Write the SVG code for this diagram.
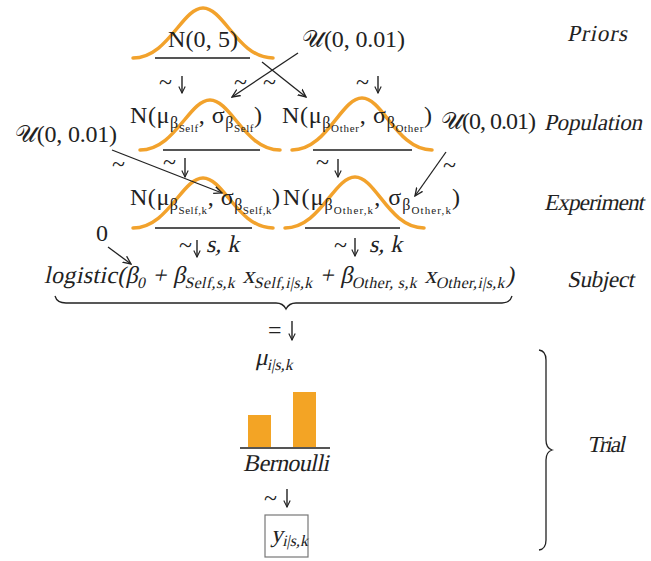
<svg xmlns="http://www.w3.org/2000/svg" width="651" height="561" viewBox="0 0 651 561">
<style>
.f{font-family:"Liberation Serif","DejaVu Serif",serif;font-size:24px;fill:#222}
.s1{font-size:16px}
.s2{font-size:11px}
.lab{font-family:"Liberation Serif","DejaVu Serif",serif;font-size:23px;fill:#222}
.cur{fill:none;stroke:#F2A22C;stroke-width:3.5;stroke-linecap:round}
.base{stroke:#555;stroke-width:2}
.conn{stroke:#222;stroke-width:1.3;fill:none}
.dn{stroke:#222;stroke-width:1.4;fill:none}
.bar{fill:#F3A425}
</style>
<defs>
<marker id="ah" viewBox="0 0 10 10" refX="9" refY="5" markerWidth="9" markerHeight="9" orient="auto" markerUnits="userSpaceOnUse">
<path d="M0,1 L9,5 L0,9" fill="none" stroke="#222" stroke-width="1.5"/>
</marker>
<marker id="ad" viewBox="0 0 10 10" refX="9" refY="5" markerWidth="8" markerHeight="8" orient="auto" markerUnits="userSpaceOnUse">
<path d="M1,1 L9,5 L1,9" fill="none" stroke="#222" stroke-width="1.4"/>
</marker>
</defs>

<g id="prior-beta">
<path class="cur" d="M133,58 C168,58 182,8 203,8 C224,8 238,58 273,58"/>
<line class="base" x1="155" y1="58" x2="250" y2="58"/>
<text class="f" x="168" y="47" textLength="70" lengthAdjust="spacing">N(0, 5)</text>
</g>

<g id="prior-sigma">
<text class="f" x="302" y="47" textLength="103" lengthAdjust="spacing">𝒰(0, 0.01)</text>
</g>

<g id="pop-self">
<path class="cur" d="M140,150 C175,150 189,100 210,100 C231,100 245,150 280,150"/>
<line class="base" x1="163" y1="150" x2="260" y2="150"/>
<text class="f" x="130" y="123" textLength="132" lengthAdjust="spacing">N(μ<tspan class="s1" dy="5">β</tspan><tspan class="s2" dy="4">Self</tspan><tspan dy="-9">, σ</tspan><tspan class="s1" dy="5">β</tspan><tspan class="s2" dy="4">Self</tspan><tspan dy="-9">)</tspan></text>
</g>

<g id="pop-other">
<path class="cur" d="M292,150 C327,150 341,98 362,98 C383,98 397,150 432,150"/>
<line class="base" x1="313" y1="150" x2="412" y2="150"/>
<text class="f" x="282" y="123" textLength="150" lengthAdjust="spacing">N(μ<tspan class="s1" dy="5">β</tspan><tspan class="s2" dy="4">Other</tspan><tspan dy="-9">, σ</tspan><tspan class="s1" dy="5">β</tspan><tspan class="s2" dy="4">Other</tspan><tspan dy="-9">)</tspan></text>
</g>

<g id="pop-sigma-left">
<text class="f" x="15" y="142" textLength="102" lengthAdjust="spacing">𝒰(0, 0.01)</text>
</g>

<g id="pop-sigma-right">
<text class="f" x="441" y="129" textLength="95" lengthAdjust="spacing">𝒰(0, 0.01)</text>
</g>

<g id="exp-self">
<path class="cur" d="M133,228 C168,228 182,178 203,178 C224,178 238,228 273,228"/>
<line class="base" x1="155" y1="228" x2="252" y2="228"/>
<text class="f" x="130" y="205" textLength="150" lengthAdjust="spacing">N(μ<tspan class="s1" dy="5">β</tspan><tspan class="s2" dy="4">Self,k</tspan><tspan dy="-9">, σ</tspan><tspan class="s1" dy="5">β</tspan><tspan class="s2" dy="4">Self,k</tspan><tspan dy="-9">)</tspan></text>
</g>

<g id="exp-other">
<path class="cur" d="M285,228 C320,228 334,177 355,177 C376,177 389,228 424,228"/>
<line class="base" x1="305" y1="228" x2="400" y2="228"/>
<text class="f" x="283" y="205" textLength="177" lengthAdjust="spacing">N(μ<tspan class="s1" dy="5">β</tspan><tspan class="s2" dy="4">Other,k</tspan><tspan dy="-9">, σ</tspan><tspan class="s1" dy="5">β</tspan><tspan class="s2" dy="4">Other,k</tspan><tspan dy="-9">)</tspan></text>
</g>

<g id="intercept">
<text class="f" x="96" y="241">0</text>
</g>

<g id="subject">
<text class="f" transform="translate(44,283) skewX(-12)" x="0" y="0" textLength="470" lengthAdjust="spacing">logistic(β<tspan class="s1" dy="5">0</tspan><tspan dy="-5"> + β</tspan><tspan class="s1" dy="5">Self,s,k</tspan><tspan dy="-5"> x</tspan><tspan class="s1" dy="5">Self,i|s,k</tspan><tspan dy="-5"> + β</tspan><tspan class="s1" dy="5">Other, s,k</tspan><tspan dy="-5"> x</tspan><tspan class="s1" dy="5">Other,i|s,k</tspan><tspan dy="-5">)</tspan></text>
<path class="conn" stroke-width="2" d="M55,296 Q57,303 66,303 L276,303 Q283,303 286,309 Q289,303 296,303 L502,303 Q510,303 512,296"/>
</g>

<g id="trial">
<text class="f" transform="translate(255,365) skewX(-12)" x="0" y="0">μ<tspan class="s1" dy="5">i|s,k</tspan></text>
<rect class="bar" x="248" y="415" width="23" height="33"/>
<rect class="bar" x="293" y="392" width="23" height="56"/>
<line class="base" x1="240" y1="448" x2="330" y2="448"/>
<text class="f" transform="translate(243,471) skewX(-12)" x="0" y="0" textLength="86" lengthAdjust="spacing">Bernoulli</text>
</g>

<g id="observation">
<rect x="265" y="515" width="43" height="42" fill="none" stroke="#777" stroke-width="1.2"/>
<text class="f" transform="translate(271,542) skewX(-12)" x="0" y="0">y<tspan class="s1" dy="4">i|s,k</tspan></text>
</g>

<g id="connectors">
<line class="conn" x1="298" y1="53" x2="232" y2="97" marker-end="url(#ah)"/>
<line class="conn" x1="262" y1="62" x2="306" y2="97" marker-end="url(#ah)"/>
<line class="conn" x1="112" y1="150" x2="222" y2="193" marker-end="url(#ah)"/>
<line class="conn" x1="446" y1="152" x2="415" y2="196" marker-end="url(#ah)"/>
<line class="conn" x1="108" y1="247" x2="131" y2="264" marker-end="url(#ah)"/>

<text class="f" x="159" y="90">~</text>
<line class="dn" x1="182" y1="76" x2="182" y2="93" marker-end="url(#ad)"/>
<text class="f" x="234" y="90">~</text>
<text class="f" x="263" y="90">~</text>
<text class="f" x="356" y="90">~</text>
<line class="dn" x1="378" y1="76" x2="378" y2="93" marker-end="url(#ad)"/>

<text class="f" x="112" y="172">~</text>
<text class="f" x="163" y="170">~</text>
<line class="dn" x1="185" y1="158" x2="185" y2="177" marker-end="url(#ad)"/>
<text class="f" x="316" y="170">~</text>
<line class="dn" x1="338" y1="159" x2="338" y2="177" marker-end="url(#ad)"/>
<text class="f" x="443" y="173">~</text>

<text class="f" x="179" y="253">~</text>
<line class="dn" x1="197" y1="240" x2="197" y2="257" marker-end="url(#ad)"/>
<text class="f" transform="translate(206,252) skewX(-12)" x="0" y="0" font-size="20">s, k</text>
<text class="f" x="334" y="253">~</text>
<line class="dn" x1="355" y1="238" x2="355" y2="256" marker-end="url(#ad)"/>
<text class="f" transform="translate(369,252) skewX(-12)" x="0" y="0" font-size="20">s, k</text>

<text class="f" x="268" y="338">=</text>
<line class="dn" x1="292" y1="321" x2="292" y2="340" marker-end="url(#ad)"/>

<text class="f" x="264" y="506">~</text>
<line class="dn" x1="287" y1="489" x2="287" y2="507" marker-end="url(#ad)"/>
</g>

<g id="levels">
<text class="lab" transform="translate(567,41) skewX(-12)" x="0" y="0" textLength="60">Priors</text>
<text class="lab" transform="translate(544,130) skewX(-12)" x="0" y="0" textLength="98">Population</text>
<text class="lab" transform="translate(544,210) skewX(-12)" x="0" y="0" textLength="100">Experiment</text>
<text class="lab" transform="translate(567,287) skewX(-12)" x="0" y="0" textLength="67">Subject</text>
<text class="lab" transform="translate(587,452) skewX(-12)" x="0" y="0" textLength="38">Trial</text>
<path class="conn" stroke-width="1.8" d="M539,350 Q546,351 546,360 L546,440 Q546,448 552,450 Q546,452 546,460 L546,540 Q546,549 539,550"/>
</g>
</svg>
